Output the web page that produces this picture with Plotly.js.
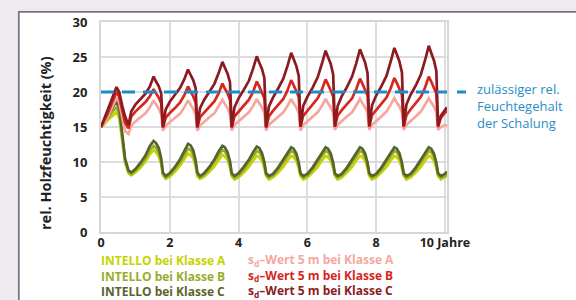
<!DOCTYPE html>
<html>
<head>
<meta charset="utf-8">
<script src="https://cdn.plot.ly/plotly-3.0.1.min.js"></script>
<style>html,body{margin:0;padding:0;background:#fff;}#chart{width:576px;height:300px;}</style>
</head>
<body>
<div id="chart"></div>
<script>
// Time axis (years), shared by all six series
const years = [0, 0.1, 0.2, 0.3, 0.45, 0.53, 0.62, 0.7,
 0.8, 0.88, 1.0, 1.15, 1.3, 1.42, 1.53, 1.6, 1.68, 1.75,
 1.8, 1.88, 2.0, 2.15, 2.3, 2.42, 2.53, 2.6, 2.68, 2.75,
 2.8, 2.88, 3.0, 3.15, 3.3, 3.42, 3.53, 3.6, 3.68, 3.75,
 3.8, 3.88, 4.0, 4.15, 4.3, 4.42, 4.53, 4.6, 4.68, 4.75,
 4.8, 4.88, 5.0, 5.15, 5.3, 5.42, 5.53, 5.6, 5.68, 5.75,
 5.8, 5.88, 6.0, 6.15, 6.3, 6.42, 6.53, 6.6, 6.68, 6.75,
 6.8, 6.88, 7.0, 7.15, 7.3, 7.42, 7.53, 7.6, 7.68, 7.75,
 7.8, 7.88, 8.0, 8.15, 8.3, 8.42, 8.53, 8.6, 8.68, 8.75,
 8.8, 8.88, 9.0, 9.15, 9.3, 9.42, 9.53, 9.6, 9.68, 9.75,
 9.8, 9.88, 10.0, 10.06];

const intelloA = [15, 15.4, 16.0, 16.5, 17.1, 16.3, 13.0, 9.9,
 8.4, 8.1, 8.5, 9.2, 10.1, 11.1, 11.7, 11.4, 10.8, 9.7,
 8.1, 7.6, 7.9, 8.6, 9.5, 10.4, 11.2, 11.0, 10.5, 9.4,
 8.0, 7.6, 7.9, 8.6, 9.4, 10.3, 11.0, 10.8, 10.3, 9.2,
 8.0, 7.5, 7.8, 8.5, 9.3, 10.2, 10.9, 10.7, 10.2, 9.1,
 8.0, 7.5, 7.8, 8.5, 9.3, 10.2, 10.9, 10.7, 10.2, 9.1,
 8.0, 7.5, 7.8, 8.5, 9.3, 10.2, 10.9, 10.7, 10.2, 9.1,
 8.0, 7.5, 7.8, 8.5, 9.3, 10.2, 10.9, 10.7, 10.2, 9.1,
 8.0, 7.5, 7.8, 8.5, 9.3, 10.2, 10.9, 10.7, 10.2, 9.1,
 8.0, 7.5, 7.8, 8.5, 9.3, 10.2, 10.9, 10.7, 10.2, 9.1,
 8.0, 7.5, 7.8, 8.0];

const intelloB = [15, 15.6, 16.3, 17.0, 17.8, 17.0, 13.5, 10.2,
 8.6, 8.3, 8.8, 9.6, 10.6, 11.7, 12.3, 12.0, 11.4, 10.1,
 8.3, 7.8, 8.2, 9.0, 10.0, 11.0, 11.9, 11.7, 11.1, 9.9,
 8.3, 7.8, 8.2, 9.0, 10.0, 10.9, 11.7, 11.5, 10.9, 9.7,
 8.2, 7.8, 8.1, 8.9, 9.9, 10.8, 11.6, 11.4, 10.8, 9.6,
 8.2, 7.8, 8.1, 8.9, 9.9, 10.8, 11.6, 11.4, 10.8, 9.6,
 8.2, 7.8, 8.1, 8.9, 9.9, 10.8, 11.6, 11.4, 10.8, 9.6,
 8.2, 7.8, 8.1, 8.9, 9.9, 10.8, 11.6, 11.4, 10.8, 9.6,
 8.2, 7.8, 8.1, 8.9, 9.9, 10.8, 11.6, 11.4, 10.8, 9.6,
 8.2, 7.8, 8.1, 8.9, 9.9, 10.8, 11.6, 11.4, 10.8, 9.6,
 8.2, 7.8, 8.0, 8.3];

const intelloC = [15, 15.8, 16.7, 17.6, 18.7, 17.8, 14.0, 10.5,
 8.8, 8.5, 9.0, 9.9, 11.0, 12.3, 13.0, 12.7, 12.0, 10.5,
 8.5, 8.0, 8.4, 9.3, 10.4, 11.6, 12.6, 12.4, 11.7, 10.3,
 8.5, 8.0, 8.4, 9.3, 10.4, 11.5, 12.3, 12.1, 11.4, 10.1,
 8.4, 8.0, 8.4, 9.3, 10.3, 11.4, 12.2, 12.0, 11.3, 10.0,
 8.4, 8.0, 8.3, 9.2, 10.3, 11.3, 12.1, 11.9, 11.2, 9.9,
 8.4, 8.0, 8.3, 9.2, 10.3, 11.3, 12.1, 11.9, 11.2, 9.9,
 8.4, 8.0, 8.3, 9.2, 10.3, 11.3, 12.1, 11.9, 11.2, 9.9,
 8.4, 8.0, 8.3, 9.2, 10.3, 11.3, 12.1, 11.9, 11.2, 9.9,
 8.4, 8.0, 8.3, 9.2, 10.3, 11.3, 12.1, 11.9, 11.2, 9.9,
 8.4, 8.0, 8.3, 8.6];

const sdA = [15, 15.6, 16.5, 17.5, 19.2, 18.5, 16.3, 14.4,
 14.0, 15.2, 15.8, 16.4, 17.0, 17.8, 18.8, 18.2, 17.6, 16.8,
 14.5, 15.2, 15.7, 16.3, 16.9, 17.8, 18.8, 18.2, 17.6, 16.8,
 14.5, 15.2, 15.8, 16.4, 17.0, 17.9, 18.9, 18.3, 17.7, 16.9,
 14.5, 15.3, 15.8, 16.4, 17.1, 18.0, 19.0, 18.4, 17.8, 17.0,
 14.5, 15.3, 15.8, 16.4, 17.1, 18.0, 19.0, 18.4, 17.8, 17.0,
 14.5, 15.3, 15.8, 16.4, 17.1, 18.0, 19.0, 18.4, 17.8, 17.0,
 14.6, 15.3, 15.9, 16.5, 17.1, 18.0, 19.0, 18.4, 17.8, 17.0,
 14.6, 15.3, 15.9, 16.5, 17.2, 18.1, 19.1, 18.5, 17.9, 17.1,
 14.6, 15.3, 15.9, 16.5, 17.2, 18.1, 19.1, 18.5, 17.9, 17.1,
 14.6, 15.0, 15.3, 15.2];

const sdB = [15, 15.9, 17.0, 18.2, 20.0, 19.3, 17.2, 15.6,
 14.8, 16.5, 17.2, 17.9, 18.6, 19.4, 20.4, 19.8, 19.2, 18.4,
 14.9, 16.3, 17.0, 17.7, 18.5, 19.5, 20.8, 20.1, 19.4, 18.5,
 14.9, 16.4, 17.1, 17.9, 18.7, 19.8, 21.2, 20.5, 19.8, 18.9,
 14.9, 16.5, 17.2, 18.0, 18.9, 20.0, 21.5, 20.8, 20.0, 19.1,
 14.9, 16.5, 17.3, 18.1, 19.0, 20.2, 21.7, 21.0, 20.2, 19.3,
 15.0, 16.6, 17.3, 18.2, 19.1, 20.3, 21.8, 21.1, 20.3, 19.4,
 15.0, 16.6, 17.4, 18.2, 19.1, 20.4, 21.9, 21.2, 20.4, 19.5,
 15.0, 16.7, 17.4, 18.3, 19.2, 20.5, 22.0, 21.3, 20.5, 19.6,
 15.0, 16.7, 17.5, 18.4, 19.3, 20.6, 22.2, 21.5, 20.7, 19.8,
 15.0, 16.3, 17.0, 17.3];

const sdC = [15, 16.2, 17.5, 18.8, 20.7, 20.0, 18.0, 16.5,
 15.3, 17.2, 18.2, 19.0, 19.8, 20.8, 22.2, 21.5, 20.8, 19.8,
 15.0, 17.5, 18.6, 19.6, 20.6, 21.8, 23.2, 22.5, 21.7, 20.6,
 15.0, 17.7, 18.9, 20.0, 21.2, 22.7, 24.3, 23.5, 22.6, 21.4,
 15.0, 17.8, 19.1, 20.3, 21.6, 23.3, 25.1, 24.2, 23.3, 22.0,
 15.0, 17.9, 19.2, 20.5, 21.9, 23.7, 25.6, 24.7, 23.7, 22.3,
 15.1, 18.0, 19.3, 20.6, 22.1, 24.0, 25.9, 25.0, 24.0, 22.5,
 15.1, 18.0, 19.4, 20.7, 22.2, 24.1, 26.1, 25.2, 24.2, 22.7,
 15.2, 18.1, 19.5, 20.8, 22.3, 24.3, 26.3, 25.4, 24.3, 22.8,
 15.2, 18.2, 19.6, 20.9, 22.5, 24.5, 26.6, 25.6, 24.5, 23.0,
 15.2, 16.6, 17.5, 17.8];

const seriesNames = ['INTELLO bei Klasse A', 'INTELLO bei Klasse B', 'INTELLO bei Klasse C',
  's<sub>d</sub>–Wert 5 m bei Klasse A', 's<sub>d</sub>–Wert 5 m bei Klasse B', 's<sub>d</sub>–Wert 5 m bei Klasse C'];
const seriesValues = [intelloA, intelloB, intelloC, sdA, sdB, sdC];
const seriesColors = ['#c6d300', '#9aab2c', '#56652b', '#f5a79f', '#d8251d', '#8b1b21'];

const limitValue = 20;
const limitLabel = 'zulässiger rel.<br>Feuchtegehalt<br>der Schalung';
const xTickVals = [0, 2, 4, 6, 8, 10];
const xTickText = ['0', '2', '4', '6', '8', '10 Jahre'];
const yTickVals = [0, 5, 10, 15, 20, 25, 30];
const yTitle = 'rel. Holzfeuchtigkeit (%)';

const FONT = 'Open Sans, Noto Sans, sans-serif';

const traces = seriesValues.map((v, i) => ({
  type: 'scatter', mode: 'lines', x: years, y: v, name: seriesNames[i],
  line: {color: seriesColors[i], width: 2.7, shape: 'linear'},
  showlegend: false, hoverinfo: 'skip'
}));

// plot area: l=101, r=129, t=22, b=68  (346 x 210 px)
const W = 346, H = 210, L = 101, T = 22;
const px = x => (x - L) / W;
const py = y => (T + H - y) / H;

const annotations = [];
// legend: two columns, three colored lines each
[0, 1].forEach(col => {
  const lines = [0, 1, 2].map(r => {
    const i = col * 3 + r;
    return '<span style="color:' + seriesColors[i] + '">' + seriesNames[i] + '</span>';
  });
  annotations.push({
    xref: 'paper', yref: 'paper', x: px(col === 0 ? 100 : 247), y: py(col === 0 ? 276.3 : 275.7),
    xanchor: 'left', yanchor: 'middle', align: 'left', showarrow: false,
    text: lines.join('<br>'), borderpad: 0,
    font: {family: FONT, size: 12, color: '#444', weight: 'bold'}
  });
});
annotations.push({
  xref: 'paper', yref: 'paper', x: px(45), y: py(143), textangle: -90,
  xanchor: 'center', yanchor: 'middle', showarrow: false, text: yTitle, borderpad: 0,
  font: {family: FONT, size: 14.5, color: '#222', weight: 'bold'}
});
annotations.push({
  xref: 'paper', yref: 'paper', x: px(476), y: py(105.5),
  xanchor: 'left', yanchor: 'middle', align: 'left', showarrow: false, text: limitLabel, borderpad: 0,
  font: {family: FONT, size: 13, color: '#2a8dc5'}
});

const lav = '#efeaf0', bord = '#7a6e7f';
const shapes = [
  {type: 'rect', xref: 'paper', yref: 'paper', x0: px(0), x1: px(18), y0: py(300), y1: py(0), fillcolor: lav, line: {width: 0}, layer: 'below'},
  {type: 'rect', xref: 'paper', yref: 'paper', x0: px(0), x1: px(576), y0: py(11), y1: py(0), fillcolor: lav, line: {width: 0}, layer: 'below'},
  {type: 'line', xref: 'paper', yref: 'paper', x0: px(18.8), x1: px(18.8), y0: py(300), y1: py(11), line: {color: bord, width: 1.7}},
  {type: 'line', xref: 'paper', yref: 'paper', x0: px(18), x1: px(576), y0: py(11.8), y1: py(11.8), line: {color: bord, width: 1.7}},
  {type: 'line', xref: 'x', yref: 'y', x0: 0, x1: 10.06, y0: limitValue, y1: limitValue, line: {color: '#1b8cc8', width: 3, dash: '13px,8px'}, layer: 'above'},
  {type: 'line', xref: 'paper', yref: 'y', x0: px(457), x1: px(466), y0: limitValue, y1: limitValue, line: {color: '#1b8cc8', width: 3}}
];

const axisCommon = {
  showgrid: true, gridcolor: '#dcdcdc', gridwidth: 2,
  showline: true, mirror: true, linecolor: '#d6d6d6', linewidth: 2,
  zeroline: false, ticks: 'outside', tickcolor: 'rgba(0,0,0,0)',
  tickfont: {family: FONT, size: 13, color: '#222', weight: 'bold'}
};

const layout = {
  width: 576, height: 300,
  margin: {l: L, r: 576 - L - W, t: T, b: 300 - T - H},
  paper_bgcolor: '#ffffff', plot_bgcolor: '#ffffff',
  showlegend: false,
  xaxis: Object.assign({}, axisCommon, {range: [0, 10.06], tickvals: xTickVals, ticktext: xTickText, ticklen: 0,
    ticklabelstandoff: -2,
    tickfont: {family: FONT, size: 12.5, color: '#222', weight: 'bold'}}),
  yaxis: Object.assign({}, axisCommon, {range: [0, 30], tickvals: yTickVals, ticklen: 9}),
  annotations: annotations,
  shapes: shapes
};

Plotly.newPlot('chart', traces, layout, {displayModeBar: false, staticPlot: true});
</script>
</body>
</html>
